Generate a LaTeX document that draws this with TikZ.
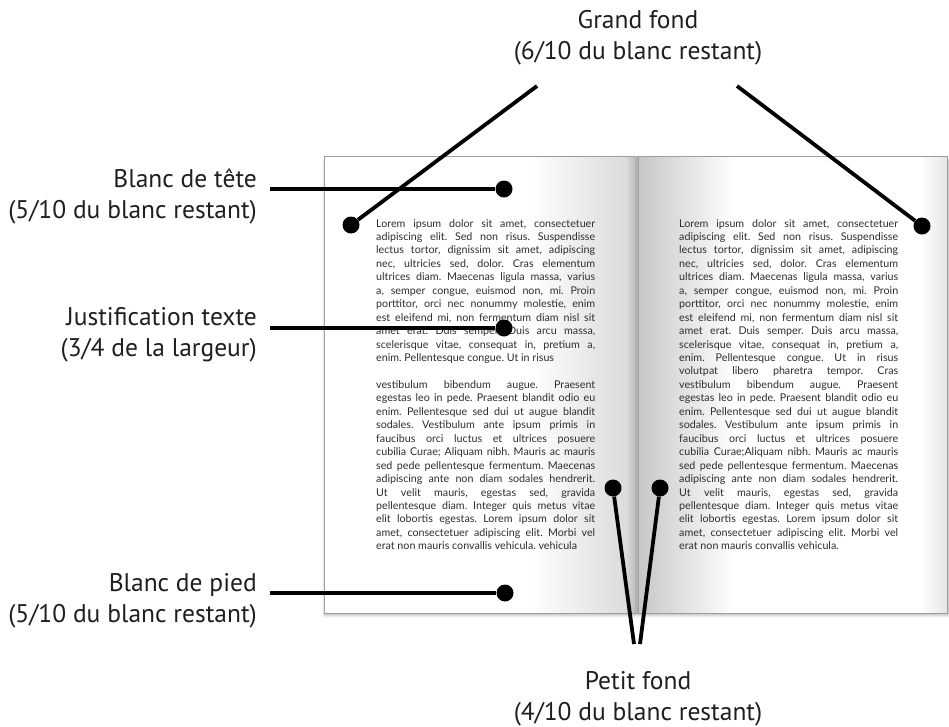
\documentclass[tikz,border=0pt]{standalone}
\usepackage{fontspec}
\setmainfont{PT Sans}
\newfontfamily\bodyfont{Lato}
\frenchspacing
\newcommand\jl[1]{\hbox to 219pt{#1}}
\newcommand\lastl[1]{\hbox{#1}}
\newcommand\bodysize{\bodyfont\fontsize{10.7}{13.45}\selectfont}
\begin{document}
\begin{tikzpicture}[x=1pt,y=-1pt,
  conn/.style={line width=3.8pt, draw=black},
  dotnode/.style={circle, fill=black, inner sep=0pt, minimum size=17pt},
  lab/.style={inner sep=0pt, text=black!88, font=\fontsize{25.5}{31}\selectfont},
  pagebox/.style={draw=black!38, line width=0.8pt},
  body/.style={inner sep=0pt, text=black!82, anchor=base west}]
\fill[white] (0,0) rectangle (949,726);
\useasboundingbox (0,0) rectangle (949,726);
% shadow
\foreach \o/\op in {5/0.03,4/0.04,3/0.06,2/0.08,1/0.10}
  \fill[black,opacity=\op] ({327-\o},{156+\o}) rectangle ({947+\o},{613+\o});
% left page
\fill[white] (324,156) rectangle (635,613);
\shade[left color=white, right color=black!14] (530,156) rectangle (626,613);
\shade[left color=black!14, right color=black!26] (626,156) rectangle (635,613);
\draw[pagebox] (324,156) rectangle (635,613);
% right page
\fill[white] (638,156) rectangle (947,613);
\shade[left color=black!22, right color=white] (638,156) rectangle (735,613);
\shade[left color=white, right color=black!10] (920,156) rectangle (947,613);
\draw[pagebox] (638,156) rectangle (947,613);
\fill[black!30] (635,156) rectangle (638,613);
% body text
\node[body] (txtL) at (376,227) {\vtop{\bodysize
\jl{Lorem ipsum dolor sit amet, consectetuer}
\jl{adipiscing elit. Sed non risus. Suspendisse}
\jl{lectus tortor, dignissim sit amet, adipiscing}
\jl{nec, ultricies sed, dolor. Cras elementum}
\jl{ultrices diam. Maecenas ligula massa, varius}
\jl{a, semper congue, euismod non, mi. Proin}
\jl{porttitor, orci nec nonummy molestie, enim}
\jl{est eleifend mi, non fermentum diam nisl sit}
\jl{amet erat. Duis semper. Duis arcu massa,}
\jl{scelerisque vitae, consequat in, pretium a,}
\lastl{enim. Pellentesque congue. Ut in risus}
\vskip 13.45pt
\jl{vestibulum bibendum augue. Praesent}
\jl{egestas leo in pede. Praesent blandit odio eu}
\jl{enim. Pellentesque sed dui ut augue blandit}
\jl{sodales. Vestibulum ante ipsum primis in}
\jl{faucibus orci luctus et ultrices posuere}
\jl{cubilia Curae; Aliquam nibh. Mauris ac mauris}
\jl{sed pede pellentesque fermentum. Maecenas}
\jl{adipiscing ante non diam sodales hendrerit.}
\jl{Ut velit mauris, egestas sed, gravida}
\jl{pellentesque diam. Integer quis metus vitae}
\jl{elit lobortis egestas. Lorem ipsum dolor sit}
\jl{amet, consectetuer adipiscing elit. Morbi vel}
\lastl{erat non mauris convallis vehicula. vehicula}
}};
\node[body] (txtR) at (679,227) {\vtop{\bodysize
\jl{Lorem ipsum dolor sit amet, consectetuer}
\jl{adipiscing elit. Sed non risus. Suspendisse}
\jl{lectus tortor, dignissim sit amet, adipiscing}
\jl{nec, ultricies sed, dolor. Cras elementum}
\jl{ultrices diam. Maecenas ligula massa, varius}
\jl{a, semper congue, euismod non, mi. Proin}
\jl{porttitor, orci nec nonummy molestie, enim}
\jl{est eleifend mi, non fermentum diam nisl sit}
\jl{amet erat. Duis semper. Duis arcu massa,}
\jl{scelerisque vitae, consequat in, pretium a,}
\jl{enim. Pellentesque congue. Ut in risus}
\jl{volutpat libero pharetra tempor. Cras}
\jl{vestibulum bibendum augue. Praesent}
\jl{egestas leo in pede. Praesent blandit odio eu}
\jl{enim. Pellentesque sed dui ut augue blandit}
\jl{sodales. Vestibulum ante ipsum primis in}
\jl{faucibus orci luctus et ultrices posuere}
\jl{cubilia Curae;Aliquam nibh. Mauris ac mauris}
\jl{sed pede pellentesque fermentum. Maecenas}
\jl{adipiscing ante non diam sodales hendrerit.}
\jl{Ut velit mauris, egestas sed, gravida}
\jl{pellentesque diam. Integer quis metus vitae}
\jl{elit lobortis egestas. Lorem ipsum dolor sit}
\jl{amet, consectetuer adipiscing elit. Morbi vel}
\lastl{erat non mauris convallis vehicula.}
}};
% labels
\node[lab, anchor=base east] (labT) at (257,187) {\begin{tabular}[t]{@{}r@{}}Blanc de tête\\(5/10 du blanc restant)\end{tabular}};
\node[lab, anchor=base east] (labJ) at (257,325.5) {\begin{tabular}[t]{@{}r@{}}Justification texte\\(3/4 de la largeur)\end{tabular}};
\node[lab, anchor=base east] (labP) at (257,591) {\begin{tabular}[t]{@{}r@{}}Blanc de pied\\(5/10 du blanc restant)\end{tabular}};
\node[lab, anchor=base] (labG) at (638,28.5) {\begin{tabular}[t]{@{}c@{}}Grand fond\\(6/10 du blanc restant)\end{tabular}};
\node[lab, anchor=base] (labF) at (638,689.5) {\begin{tabular}[t]{@{}c@{}}Petit fond\\(4/10 du blanc restant)\end{tabular}};
% dots
\node[dotnode] (dT) at (504,189) {};
\node[dotnode] (dJ) at (504,328) {};
\node[dotnode] (dP) at (505,593) {};
\node[dotnode] (dG1) at (351,225) {};
\node[dotnode] (dG2) at (922,226) {};
\node[dotnode] (dF1) at (613,488) {};
\node[dotnode] (dF2) at (660,488) {};
% connector ends
\coordinate (cT) at (270,189);
\coordinate (cJ) at (270,328);
\coordinate (cP) at (270,593);
\coordinate (cG1) at (537,86);
\coordinate (cG2) at (737,86);
\coordinate (cF1) at (634,644);
\coordinate (cF2) at (640,644);
% connectors
\draw[conn] (cT) -- (dT);
\draw[conn] (cJ) -- (dJ);
\draw[conn] (cP) -- (dP);
\draw[conn] (cG1) -- (dG1);
\draw[conn] (cG2) -- (dG2);
\draw[conn] (cF1) -- (dF1);
\draw[conn] (cF2) -- (dF2);
\end{tikzpicture}
\end{document}
